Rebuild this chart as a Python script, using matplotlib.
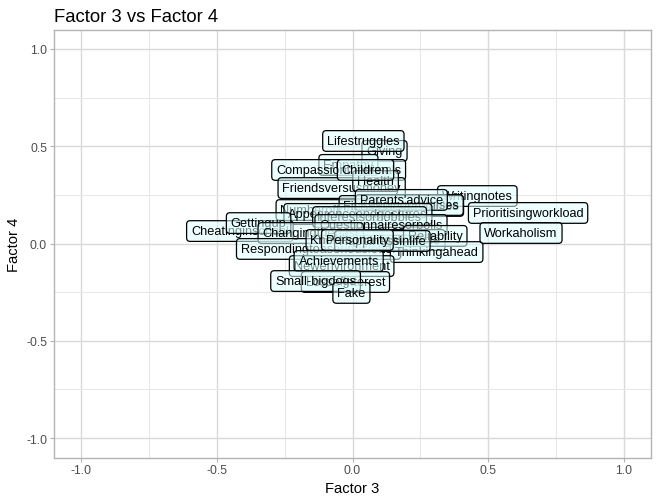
import matplotlib
matplotlib.use('Agg')
import matplotlib.pyplot as plt
from matplotlib.ticker import MultipleLocator

plt.rcParams['font.family'] = ['Liberation Sans', 'DejaVu Sans']

# labels in drawing order (first = bottom)
labels = [
    'Giving', 'Lifestruggles', 'Empathy', 'Compassiontoanimals', 'Friendsversusmoney',
    'Health', 'Children', 'Numberoffriends', 'Writingnotes', 'Findinglostvaluables',
    'Keepingpromises', 'Parents\'advice', 'Appearenceandgestures', 'Interestsorhobbies',
    'Questionnairesorpolls', 'Cheatinginschool', 'Gettingup', 'Changingthepast',
    'Respondingtoaseriousletter', 'Knowingtherightpeople', 'Reliability', 'Thinkingahead',
    'Happinessinlife', 'Personality', 'Newenvironment', 'Achievements',
    'Lossofinterest', 'Small-bigdogs', 'Fake', 'Prioritisingworkload', 'Workaholism',
]
factor3 = [
    0.118, 0.040, -0.015, -0.051, -0.040,
    0.085, 0.048, -0.092, 0.460, 0.180,
    0.210, 0.180, 0.020, 0.063,
    0.105, -0.415, -0.346, -0.154,
    -0.125, 0.085, 0.305, 0.310,
    0.110, 0.018, -0.040, -0.051,
    -0.026, -0.136, -0.004, 0.647, 0.621,
]
factor4 = [
    0.476, 0.527, 0.404, 0.378, 0.285,
    0.321, 0.378, 0.172, 0.244, 0.193,
    0.198, 0.224, 0.152, 0.136,
    0.095, 0.064, 0.105, 0.054,
    -0.028, 0.018, 0.039, -0.044,
    0.013, 0.018, -0.116, -0.090,
    -0.198, -0.193, -0.254, 0.157, 0.054,
]

fig = plt.figure(figsize=(6.57, 5.02), dpi=100)
ax = fig.add_axes([54 / 657, 43.5 / 502, 597 / 657, 428 / 502])

ax.set_xlim(-1.1, 1.1)
ax.set_ylim(-1.1, 1.1)
ax.xaxis.set_major_locator(MultipleLocator(0.5))
ax.yaxis.set_major_locator(MultipleLocator(0.5))
ax.xaxis.set_minor_locator(MultipleLocator(0.25))
ax.yaxis.set_minor_locator(MultipleLocator(0.25))
ax.xaxis.set_major_formatter(lambda v, p: f'{v:.1f}')
ax.yaxis.set_major_formatter(lambda v, p: f'{v:.1f}')
ax.grid(which='major', color='#d9d9d9', lw=1.0)
ax.grid(which='minor', color='#e6e6e6', lw=0.7)
ax.set_axisbelow(True)
for s in ax.spines.values():
    s.set_color('#b3b3b3')
    s.set_linewidth(1.0)
ax.tick_params(which='major', length=3, color='#b3b3b3', labelsize=8.8,
               labelcolor='#4d4d4d', pad=2)
ax.tick_params(which='minor', length=0)

for name, x, y in zip(labels, factor3, factor4):
    ax.text(x, y, name, ha='center', va='center', fontsize=9.2, color='black',
            bbox=dict(boxstyle='round,pad=0.34,rounding_size=0.28',
                      fc=(0.88, 1.0, 1.0, 0.55), ec='black', lw=0.9))

ax.set_xlabel('Factor 3', fontsize=10.6, labelpad=3)
ax.set_ylabel('Factor 4', fontsize=10.6, labelpad=4)
ax.set_title('Factor 3 vs Factor 4', fontsize=13.3, loc='left', pad=6)

fig.savefig('out.png', dpi=100)
